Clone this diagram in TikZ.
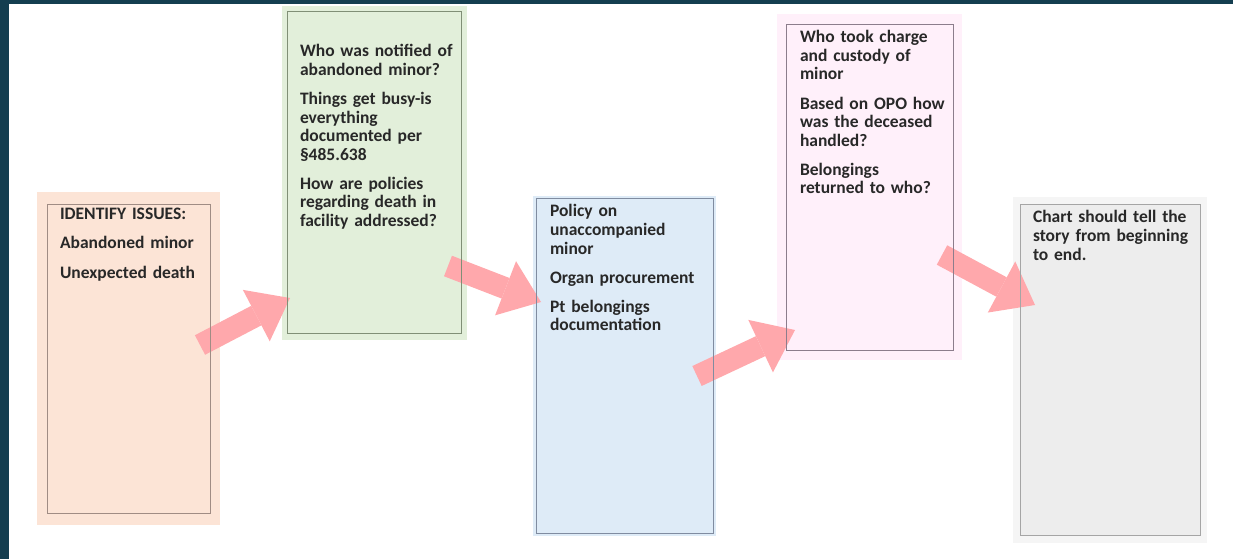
\documentclass[tikz,border=0pt]{standalone}
\usepackage{fontspec}
\setmainfont{Carlito}
\usepackage{tikz}
\usetikzlibrary{arrows.meta,calc}
\definecolor{frameTeal}{RGB}{20,62,80}
\definecolor{peachFill}{RGB}{252,228,214}
\definecolor{peachLine}{RGB}{160,140,132}
\definecolor{greenFill}{RGB}{226,239,218}
\definecolor{greenLine}{RGB}{128,143,118}
\definecolor{blueFill}{RGB}{222,235,247}
\definecolor{blueLine}{RGB}{128,140,160}
\definecolor{pinkFill}{RGB}{255,240,250}
\definecolor{pinkLine}{RGB}{140,125,140}
\definecolor{grayFill}{RGB}{237,237,237}
\definecolor{grayHalo}{RGB}{245,245,245}
\definecolor{grayLine}{RGB}{165,165,165}
\definecolor{arrowPink}{RGB}{255,168,172}
\definecolor{textInk}{RGB}{40,40,40}
\tikzset{
  panel/.style={rectangle,fill=#1,inner sep=0pt},
  notes/.style={anchor=base west,text width=190pt,align=left,inner sep=0pt,
    text=textInk,font=\bfseries\fontsize{17.5}{18.6}\selectfont},
  flow/.style={draw=arrowPink,line width=22pt,
    -{Triangle[width=58pt,length=38pt,line width=0pt]}},
  rim/.style={draw=#1,line width=1.2pt}
}

\begin{document}
\begin{tikzpicture}[x=1pt,y=-1pt]
  \useasboundingbox (0,0) rectangle (1233,559);
  \fill[white] (0,0) rectangle (1233,559);
  \fill[frameTeal] (0,0) rectangle (9,559);
  \fill[frameTeal] (0,0) rectangle (1233,4);

  % boxes
  \node[panel=peachFill, minimum width=183pt, minimum height=333pt] (issues) at (128.5,358.5) {};
  \node[panel=greenFill, minimum width=185pt, minimum height=334pt] (notified) at (374.5,173) {};
  \node[panel=blueFill, minimum width=183pt, minimum height=340pt] (policy) at (624.5,366) {};
  \node[panel=pinkFill, minimum width=185pt, minimum height=346pt] (custody) at (869.5,187) {};
  \node[panel=grayHalo, minimum width=194pt, minimum height=346pt] (story) at (1110,370) {};
  \fill[grayFill] ([shift={(8,8)}]story.north west) rectangle ([shift={(-7,-8)}]story.south east);

  \node[notes] (issuesText) at ([shift={(23,28)}]issues.north west)
    {IDENTIFY ISSUES:\\[10.5pt]Abandoned minor\\[10.5pt]Unexpected death};
  \node[notes] (notifiedText) at ([shift={(18,51)}]notified.north west)
    {Who was notified of\\abandoned minor?\\[10.5pt]Things get busy-is\\everything\\documented per\\§485.638\\[10.5pt]How are policies\\regarding death in\\facility addressed?};
  \node[notes] (policyText) at ([shift={(17,21)}]policy.north west)
    {Policy on\\unaccompanied\\minor\\[10.5pt]Organ procurement\\[10.5pt]Pt belongings\\documentation};
  \node[notes] (custodyText) at ([shift={(23,29)}]custody.north west)
    {Who took charge\\and custody of\\minor\\[10.5pt]Based on OPO how\\was the deceased\\handled?\\[10.5pt]Belongings\\returned to who?};
  \node[notes] (storyText) at ([shift={(20,26)}]story.north west)
    {Chart should tell the\\story from beginning\\to end.};

  % arrows
  \coordinate (a1s) at (200,345);
  \coordinate (a1e) at (290,298);
  \coordinate (a2s) at (448,266);
  \coordinate (a2e) at (541,302);
  \coordinate (a3s) at (697,376);
  \coordinate (a3e) at (795,330);
  \coordinate (a4s) at (942,255);
  \coordinate (a4e) at (1035,305);
  \draw[flow] (a1s) -- (a1e);
  \draw[flow] (a2s) -- (a2e);
  \draw[flow] (a3s) -- (a3e);
  \draw[flow] (a4s) -- (a4e);

  \foreach \n/\c/\l/\t/\r/\b in {issues/peachLine/11/13/10/12,
      notified/greenLine/6/6/6/7, policy/blueLine/4/3/3/3,
      custody/pinkLine/10/11/9/10, story/grayLine/8/8/7/8}
    \draw[rim=\c] ([shift={(\l,\t)}]\n.north west) rectangle ([shift={(-\r,-\b)}]\n.south east);
\end{tikzpicture}
\end{document}
